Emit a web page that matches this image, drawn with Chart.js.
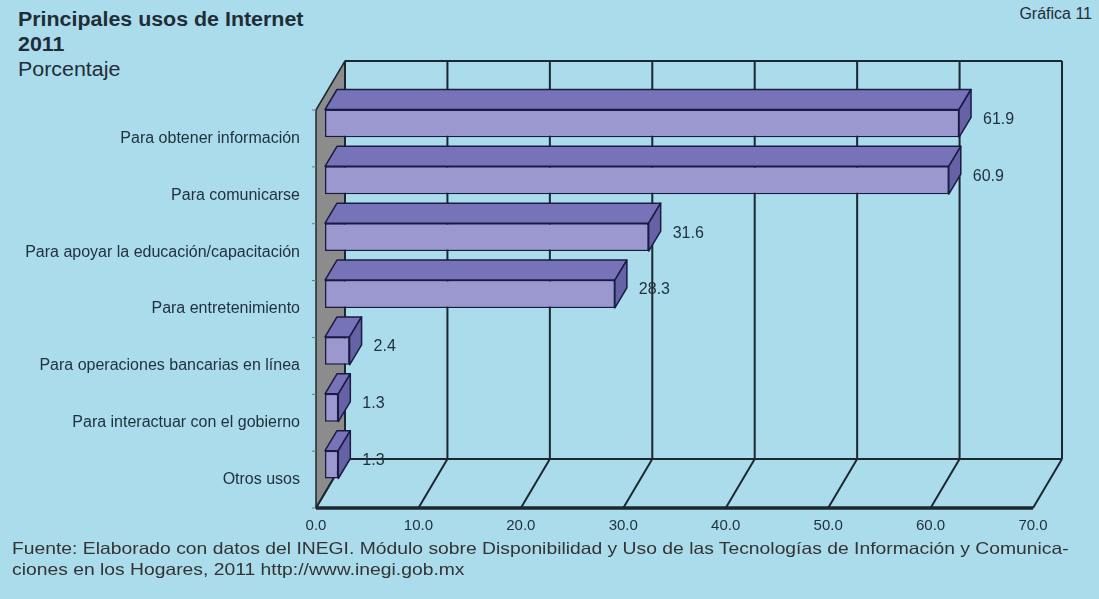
<!DOCTYPE html>
<html>
<head>
<meta charset="utf-8">
<script src="https://cdn.jsdelivr.net/npm/chart.js@4"></script>
<style>
  body { margin: 0; background: #abdcec; width: 1099px; height: 599px; overflow: hidden; position: relative; font-family: "Liberation Sans", Arial, sans-serif; color: #1f2d36; }
  #chart { position: absolute; left: 0; top: 0; }
  .title { position: absolute; left: 18px; top: 7px; font-size: 20px; line-height: 25px; transform: scaleX(1.07); transform-origin: left top; }
  .title b { font-weight: bold; }
  .num { position: absolute; right: 7px; top: 5px; font-size: 16px; }
  .source { position: absolute; left: 12px; top: 538px; font-size: 16.5px; line-height: 21px; color: #333; white-space: nowrap; transform: scaleX(1.17); transform-origin: left top; }
</style>
</head>
<body>
<div class="title"><b>Principales usos de Internet</b><br><b>2011</b><br>Porcentaje</div>
<div class="num">Gráfica 11</div>
<canvas id="chart" width="1099" height="599"></canvas>
<div class="source">Fuente: Elaborado con datos del INEGI. Módulo sobre Disponibilidad y Uso de las Tecnologías de Información y Comunica-<br>ciones en los Hogares, 2011 http://www.inegi.gob.mx</div>
<script>
// datos
const categories = [
    'Para obtener información',
    'Para comunicarse',
    'Para apoyar la educación/capacitación',
    'Para entretenimiento',
    'Para operaciones bancarias en línea',
    'Para interactuar con el gobierno',
    'Otros usos'
];
const values = [61.9, 60.9, 31.6, 28.3, 2.4, 1.3, 1.3];
const xMin = 0;
const xMax = 70;
const xStep = 10;

// profundidad del efecto 3D (px)
const wall = { dx: 29, dy: -49 };
const barOff = { dx: 9, dy: -15 };
const barDepth = { dx: 12, dy: -20 };

const lineColor = '#1c2830';
const textColor = '#22323c';

const box3d = {
    id: 'box3d',
    beforeDatasetsDraw(chart) {
        const { ctx, chartArea: a, scales: { x } } = chart;
        const x0 = x.getPixelForValue(xMin);
        const x1 = x.getPixelForValue(xMax);
        const top = a.top + wall.dy;
        const bottom = a.bottom + wall.dy;

        ctx.save();
        ctx.lineJoin = 'round';

        // pared lateral gris
        ctx.beginPath();
        ctx.moveTo(x0, a.top);
        ctx.lineTo(x0 + wall.dx, top);
        ctx.lineTo(x0 + wall.dx, bottom);
        ctx.lineTo(x0, a.bottom);
        ctx.closePath();
        ctx.fillStyle = '#8c8c8c';
        ctx.fill();
        ctx.strokeStyle = lineColor;
        ctx.lineWidth = 1.5;
        ctx.stroke();

        // marcas de categoria
        ctx.strokeStyle = '#6b7780';
        ctx.lineWidth = 1;
        for (let i = 0; i <= categories.length; i++) {
            const yb = a.top + (a.bottom - a.top) * i / categories.length;
            ctx.beginPath();
            ctx.moveTo(x0 - 4, yb);
            ctx.lineTo(x0, yb);
            ctx.stroke();
        }

        // pared de fondo
        ctx.strokeStyle = lineColor;
        ctx.lineWidth = 2;
        ctx.beginPath();
        ctx.moveTo(x0 + wall.dx, top);
        ctx.lineTo(x1 + wall.dx, top);
        for (let v = xMin; v <= xMax; v += xStep) {
            const px = x.getPixelForValue(v) + wall.dx;
            ctx.moveTo(px, top);
            ctx.lineTo(px, bottom);
        }
        ctx.stroke();

        // piso
        ctx.beginPath();
        ctx.moveTo(x0 + wall.dx, bottom);
        ctx.lineTo(x1 + wall.dx, bottom);
        for (let v = xMin; v <= xMax; v += xStep) {
            const px = x.getPixelForValue(v);
            ctx.moveTo(px, a.bottom);
            ctx.lineTo(px + wall.dx, bottom);
        }
        ctx.stroke();
        ctx.lineWidth = 3.5;
        ctx.beginPath();
        ctx.moveTo(x0, a.bottom);
        ctx.lineTo(x1, a.bottom);
        ctx.stroke();
        ctx.restore();

        // cara frontal de las barras: la dibuja Chart.js desplazada
        ctx.save();
        ctx.translate(barOff.dx, barOff.dy);
    },
    afterDatasetsDraw(chart) {
        const { ctx } = chart;
        ctx.restore();

        const meta = chart.getDatasetMeta(0);
        ctx.save();
        ctx.lineJoin = 'round';
        ctx.strokeStyle = '#1b1a45';
        ctx.lineWidth = 1.5;
        meta.data.forEach((el, i) => {
            const p = el.getProps(['x', 'y', 'base', 'height'], true);
            const fx0 = p.base + barOff.dx;
            const fx1 = p.x + barOff.dx;
            const fy0 = p.y - p.height / 2 + barOff.dy;
            const fy1 = p.y + p.height / 2 + barOff.dy;

            // cara superior
            ctx.beginPath();
            ctx.moveTo(fx0, fy0);
            ctx.lineTo(fx0 + barDepth.dx, fy0 + barDepth.dy);
            ctx.lineTo(fx1 + barDepth.dx, fy0 + barDepth.dy);
            ctx.lineTo(fx1, fy0);
            ctx.closePath();
            ctx.fillStyle = '#7773b8';
            ctx.fill();
            ctx.stroke();

            // cara lateral
            ctx.beginPath();
            ctx.moveTo(fx1, fy0);
            ctx.lineTo(fx1 + barDepth.dx, fy0 + barDepth.dy);
            ctx.lineTo(fx1 + barDepth.dx, fy1 + barDepth.dy);
            ctx.lineTo(fx1, fy1);
            ctx.closePath();
            ctx.fillStyle = '#6662a6';
            ctx.fill();
            ctx.stroke();

            // etiqueta de valor
            ctx.fillStyle = textColor;
            ctx.font = '16px "Liberation Sans", Arial, sans-serif';
            ctx.textAlign = 'left';
            ctx.textBaseline = 'middle';
            ctx.fillText(values[i].toFixed(1), fx1 + 24, (fy0 + fy1) / 2 - 4);
        });
        ctx.restore();
    }
};

const chart = new Chart(document.getElementById('chart'), {
    type: 'bar',
    data: {
        labels: categories,
        datasets: [{
            data: values,
            backgroundColor: '#9b98cf',
            borderColor: '#1b1a45',
            borderWidth: 1.5,
            borderSkipped: false,
            barPercentage: 0.49,
            categoryPercentage: 1
        }]
    },
    options: {
        indexAxis: 'y',
        responsive: false,
        devicePixelRatio: 1,
        animation: false,
        layout: { padding: { top: 110, right: 66, left: 0, bottom: 0 } },
        plugins: {
            legend: { display: false },
            tooltip: { enabled: false },
            title: { display: false }
        },
        scales: {
            x: {
                min: xMin,
                max: xMax,
                grid: { display: false, drawTicks: false },
                border: { display: false },
                ticks: {
                    stepSize: xStep,
                    padding: 9,
                    color: textColor,
                    font: { family: '"Liberation Sans", Arial, sans-serif', size: 15 },
                    callback: v => v.toFixed(1)
                },
                afterFit: scale => { scale.height = 91; }
            },
            y: {
                grid: { display: false, drawTicks: false },
                border: { display: false },
                ticks: {
                    padding: 16,
                    color: textColor,
                    font: { family: '"Liberation Sans", Arial, sans-serif', size: 16 }
                },
                afterFit: scale => { scale.width = 316; }
            }
        }
    },
    plugins: [box3d]
});
</script>
</body>
</html>
